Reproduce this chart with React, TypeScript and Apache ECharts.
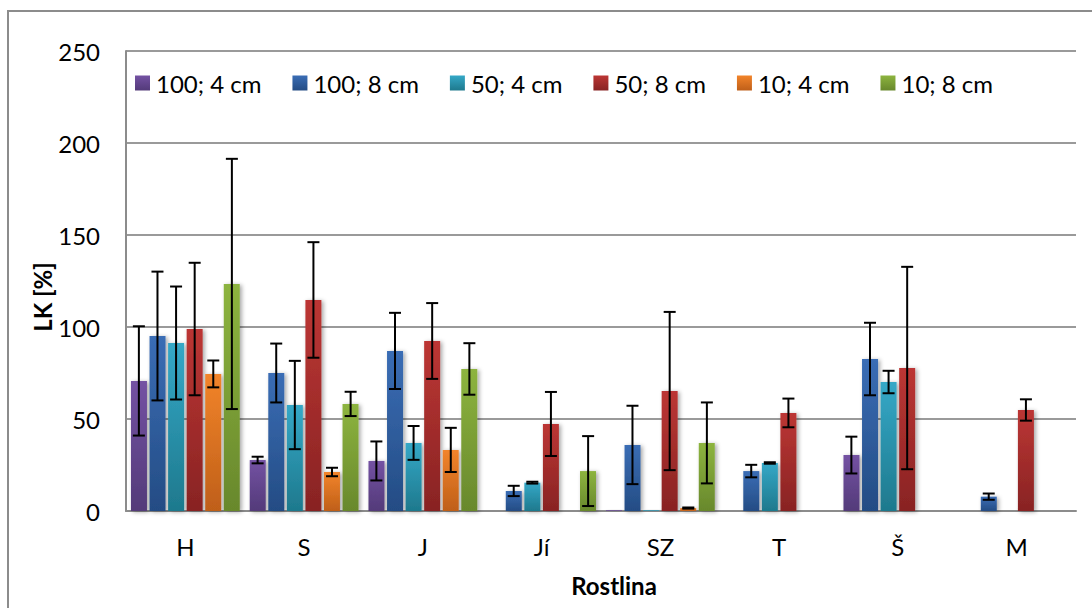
import React, { useEffect, useRef } from "react";
import * as echarts from "echarts";

const categories = ["H", "S", "J", "Jí", "SZ", "T", "Š", "M"];
const seriesNames = ["100; 4 cm", "100; 8 cm", "50; 4 cm", "50; 8 cm", "10; 4 cm", "10; 8 cm"];

const v100_4 = [70.7, 27.7, 27.2, null, 0.4, null, 30.4, null];
const e100_4 = [29.7, 1.8, 10.6, null, null, null, 10, null];
const v100_8 = [95.1, 75, 87, 10.9, 35.9, 21.7, 82.6, 7.8];
const e100_8 = [35, 16, 20.7, 2.8, 21.3, 3.4, 19.7, 1.7];
const v50_4 = [91.3, 57.6, 37, 15.4, 0.4, 26.1, 70.1, null];
const e50_4 = [30.7, 24, 9.2, 0.5, null, 0.4, 6.1, null];
const v50_8 = [98.9, 114.7, 92.4, 47.3, 65.2, 53.3, 77.7, 54.9];
const e50_8 = [36, 31.4, 20.6, 17.4, 43, 7.8, 55, 5.8];
const v10_4 = [74.5, 21.2, 33.2, null, 1.6, null, null, null];
const e10_4 = [7.3, 2.3, 12, null, 0.3, null, null, null];
const v10_8 = [123.4, 58.2, 77.2, 21.7, 37, null, null, null];
const e10_8 = [68, 6.6, 14, 19, 22, null, null, null];

const yTicks = { min: 0, max: 250, interval: 50 };

const values = [v100_4, v100_8, v50_4, v50_8, v10_4, v10_8];
const errors = [e100_4, e100_8, e50_4, e50_8, e10_4, e10_8];

const colorTop = ["#7452a3", "#3a6db5", "#35a8c7", "#bc3634", "#f2842a", "#8db43f"];
const colorBottom = ["#533a79", "#244c84", "#1e798d", "#882323", "#bf5f19", "#68882c"];

const FONT = "Lato";
const BAR_W = 16;
const STEP = 18.6;

export default function App() {
  const ref = useRef<HTMLDivElement>(null);
  useEffect(() => {
    if (!ref.current) return;
    const chart = echarts.init(ref.current, null, { renderer: "svg" });

    const grad = (i: number) =>
      new echarts.graphic.LinearGradient(0, 0, 0, 1, [
        { offset: 0, color: colorTop[i] },
        { offset: 1, color: colorBottom[i] },
      ]);

    const bars = seriesNames.map((name, i) => ({
      name,
      type: "bar",
      data: values[i],
      barWidth: BAR_W,
      barGap: "16%",
      itemStyle: {
        color: grad(i),
        shadowBlur: 4,
        shadowColor: "rgba(0,0,0,0.35)",
        shadowOffsetX: 2,
        shadowOffsetY: 1,
      },
      z: 2,
    }));

    const errSeries = seriesNames.map((name, i) => {
      const data: any[] = [];
      values[i].forEach((v, ci) => {
        const e = errors[i][ci];
        if (v !== null && e !== null) data.push([ci, (v as number) - (e as number), (v as number) + (e as number)]);
      });
      return {
        name: "err " + name,
        type: "custom",
        data,
        z: 5,
        silent: true,
        encode: { x: 0, y: [1, 2] },
        renderItem: (params: any, api: any) => {
          const ci = api.value(0);
          const lo = api.coord([ci, api.value(1)]);
          const hi = api.coord([ci, api.value(2)]);
          const x = lo[0] + (i - 2.5) * STEP;
          const style = { stroke: "#000", lineWidth: 2 };
          return {
            type: "group",
            children: [
              { type: "line", shape: { x1: x, y1: lo[1], x2: x, y2: hi[1] }, style },
              { type: "line", shape: { x1: x - 6, y1: lo[1], x2: x + 6, y2: lo[1] }, style },
              { type: "line", shape: { x1: x - 6, y1: hi[1], x2: x + 6, y2: hi[1] }, style },
            ],
          };
        },
      };
    });

    chart.setOption({
      animation: false,
      backgroundColor: "#fff",
      grid: { left: 126, right: 16, top: 51, bottom: 97 },
      legend: {
        data: seriesNames,
        left: 135,
        top: 69,
        padding: 0,
        itemWidth: 15,
        itemHeight: 15,
        itemGap: 31,
        icon: "rect",
        textStyle: { fontFamily: FONT, fontSize: 24, color: "#000", lineHeight: 28, padding: [0, 0, 0, 1] },
      },
      xAxis: {
        type: "category",
        data: categories,
        axisLine: { show: true, lineStyle: { color: "#8c8c8c", width: 2 } },
        axisTick: { show: false },
        axisLabel: { fontFamily: FONT, fontSize: 24, color: "#000", margin: 23 },
      },
      yAxis: {
        type: "value",
        min: yTicks.min,
        max: yTicks.max,
        interval: yTicks.interval,
        axisLine: { show: true, lineStyle: { color: "#8c8c8c", width: 2 } },
        axisTick: { show: false },
        splitLine: { lineStyle: { color: "#9a9a9a", width: 2 } },
        axisLabel: { fontFamily: FONT, fontSize: 24, color: "#000", margin: 26 },
      },
      graphic: [
        {
          type: "rect",
          shape: { x: 8, y: 11, width: 1100, height: 620 },
          style: { fill: "none", stroke: "#8c8c8c", lineWidth: 2 },
          z: -1,
          silent: true,
        },
        {
          type: "text",
          x: 42,
          y: 297,
          rotation: Math.PI / 2,
          style: {
            text: "LK [%]",
            fontFamily: FONT,
            fontWeight: "bold",
            fontSize: 24,
            fill: "#000",
            align: "center",
            verticalAlign: "middle",
          },
        },
        {
          type: "text",
          x: 614,
          y: 585,
          style: {
            text: "Rostlina",
            fontFamily: FONT,
            fontWeight: "bold",
            fontSize: 24,
            fill: "#000",
            align: "center",
            verticalAlign: "middle",
          },
        },
      ],
      series: [...bars, ...errSeries],
    });
    return () => chart.dispose();
  }, []);
  return (
    <div
      ref={ref}
      style={{ position: "fixed", left: 0, top: 0, width: 1092, height: 608 }}
    />
  );
}
